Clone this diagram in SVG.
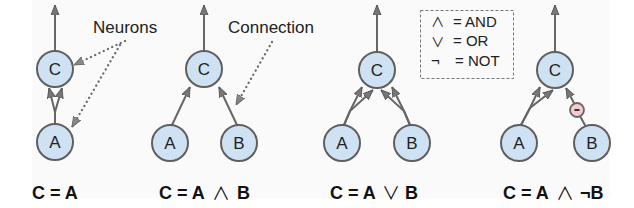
<svg xmlns="http://www.w3.org/2000/svg" width="634" height="208" viewBox="0 0 634 208">
<style>
.node circle{fill:#cfe2f3;stroke:#5f5f5f;stroke-width:2}
.node text{font-family:"Liberation Sans",Arial,sans-serif;font-size:17px;fill:#222;text-anchor:middle}
.edge{fill:none;stroke:#666;stroke-width:2;marker-end:url(#ah)}
.dot{fill:none;stroke:#6a6a6a;stroke-width:2.3;stroke-linecap:round;stroke-dasharray:0.1 4.6;marker-end:url(#ahd)}
.note{font-family:"Liberation Sans",Arial,sans-serif;font-size:17px;fill:#222}
.leg{font-family:"Liberation Sans","DejaVu Sans",sans-serif;font-size:15px;fill:#222}
.legsym{font-family:"Noto Sans CJK SC","DejaVu Sans",sans-serif;font-size:13.4px;font-weight:400}
.lbl{font-family:"Liberation Sans",Arial,sans-serif;font-size:18px;font-weight:bold;fill:#111}
.sym{font-family:"Noto Sans CJK SC","DejaVu Sans",sans-serif;font-size:18px;font-weight:400;fill:#111}
</style>
<defs>
<marker id="ah" viewBox="0 0 10 9" refX="10" refY="4.5" markerWidth="10" markerHeight="9" markerUnits="userSpaceOnUse" orient="auto">
<path d="M0,0.5 L10,4.5 L0,8.5 z" fill="#777" stroke="#5a5a5a" stroke-width="1"/>
</marker>
<marker id="ahd" viewBox="0 0 10 9" refX="10" refY="4.5" markerWidth="10" markerHeight="9" markerUnits="userSpaceOnUse" orient="auto">
<path d="M0,0.5 L10,4.5 L0,8.5 z" fill="#888" stroke="#6a6a6a" stroke-width="1"/>
</marker>
</defs>
<rect x="32" y="0" width="578" height="198" fill="#fafafa"/>

<g id="connectors">
<!-- diagram 1 -->
<path class="edge" d="M55,51 L55,5"/>
<path class="edge" d="M55,124 L55,112 L49,88"/>
<path class="edge" d="M55,124 L55,112 L62,88"/>
<path class="dot" d="M125,41 L74,65"/>
<path class="dot" d="M120,45 L72,127"/>
<!-- diagram 2 -->
<path class="edge" d="M204,51 L204,5"/>
<path class="edge" d="M172,125 L190,87"/>
<path class="edge" d="M237,125 L219,87"/>
<path class="dot" d="M272,42 L236,105"/>
<!-- diagram 3 -->
<path class="edge" d="M377,52 L377,5"/>
<path class="edge" d="M344,125 L350,111 L362,87"/>
<path class="edge" d="M344,125 L350,111 L373,90"/>
<path class="edge" d="M410,125 L404,111 L381,90"/>
<path class="edge" d="M410,125 L404,111 L392,87"/>
<!-- diagram 4 -->
<path class="edge" d="M555,52 L555,5"/>
<path class="edge" d="M521,125 L530,108 L540,87"/>
<path class="edge" d="M521,125 L530,108 L553,90"/>
<path d="M586,127 L580,116" fill="none" stroke="#666" stroke-width="2"/>
<path class="edge" d="M574,103 L566,88"/>
</g>

<g id="d1-C" class="node"><circle cx="55" cy="69" r="18"/><text x="55" y="75">C</text></g>
<g id="d1-A" class="node"><circle cx="55" cy="142" r="18"/><text x="55" y="148">A</text></g>

<g id="d2-C" class="node"><circle cx="204" cy="69" r="18"/><text x="204" y="75">C</text></g>
<g id="d2-A" class="node"><circle cx="170" cy="143" r="18"/><text x="170" y="149">A</text></g>
<g id="d2-B" class="node"><circle cx="239" cy="143" r="18"/><text x="239" y="149">B</text></g>

<g id="d3-C" class="node"><circle cx="377" cy="70" r="18"/><text x="377" y="76">C</text></g>
<g id="d3-A" class="node"><circle cx="342" cy="143" r="18"/><text x="342" y="149">A</text></g>
<g id="d3-B" class="node"><circle cx="412" cy="143" r="18"/><text x="412" y="149">B</text></g>

<g id="d4-C" class="node"><circle cx="555" cy="70" r="18"/><text x="555" y="76">C</text></g>
<g id="d4-A" class="node"><circle cx="519" cy="143" r="18"/><text x="519" y="149">A</text></g>
<g id="d4-B" class="node"><circle cx="592" cy="143" r="18"/><text x="592" y="149">B</text></g>
<g id="d4-not"><circle cx="577" cy="110" r="7" fill="#f4cccc" stroke="#666" stroke-width="1.8"/><rect x="574.5" y="109" width="5" height="2" fill="#333"/></g>

<g id="neurons-label"><text class="note" x="93" y="33">Neurons</text></g>
<g id="connection-label"><text class="note" x="228" y="33">Connection</text></g>

<g id="legend">
<rect x="420.5" y="10.5" width="93" height="68" fill="none" stroke="#777" stroke-width="1" stroke-dasharray="3 2"/>
<text class="leg"><tspan class="legsym" x="431" y="27">∧</tspan><tspan x="453" y="27">= AND</tspan><tspan class="legsym" x="431" y="46.5">∨</tspan><tspan x="453" y="46">= OR</tspan><tspan x="431" y="66">¬</tspan><tspan x="455" y="66">= NOT</tspan></text>
</g>

<g id="labels">
<text class="lbl" x="32" y="199">C = A</text>
<text class="lbl" x="159" y="199">C = A<tspan class="sym" x="212" y="200">∧</tspan><tspan x="237" y="199">B</tspan></text>
<text class="lbl" x="330" y="199">C = A<tspan class="sym" x="382" y="200">∨</tspan><tspan x="405" y="199">B</tspan></text>
<text class="lbl" x="503" y="199">C = A<tspan class="sym" x="556" y="200">∧</tspan><tspan x="580" y="199">¬B</tspan></text>
</g>
</svg>
